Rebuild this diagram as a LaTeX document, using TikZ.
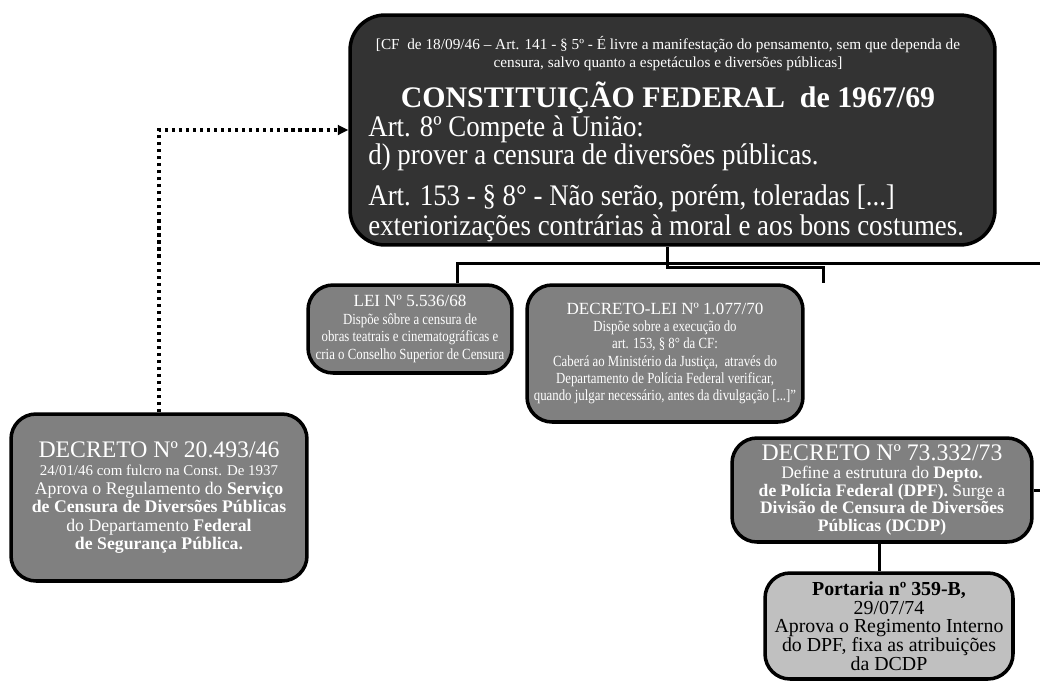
\documentclass[tikz,border=0pt]{standalone}
\usepackage{fontspec}
\setmainfont{Liberation Serif}
\newfontfamily\narrowserif[FakeStretch=0.83]{Liberation Serif}
\newfontfamily\cfserif[FakeStretch=0.9]{Liberation Serif}
\usetikzlibrary{arrows.meta}

\definecolor{cfgray}{HTML}{333333}
\definecolor{boxgray}{HTML}{808080}
\definecolor{litegray}{HTML}{C0C0C0}

\tikzset{
  lawbox/.style={draw=black, line width=2pt, rounded corners=0.5cm, fill=boxgray,
    text=white, align=center, inner sep=2pt},
  cfbox/.style={lawbox, fill=cfgray, rounded corners=0.7cm},
  portbox/.style={lawbox, fill=litegray, text=black},
  cftext/.style={text=white, inner sep=0pt, anchor=base west,
    font=\cfserif\fontsize{17}{18}\selectfont},
  link/.style={line width=1.7pt},
  refarrow/.style={line width=1.8pt, dash pattern=on 1.8pt off 2.2pt,
    -{Triangle[length=6pt,width=5.5pt]}}
}

\begin{document}
\begin{tikzpicture}[x=0.02cm, y=-0.02cm]
  \useasboundingbox (0,0) rectangle (1040,680);

  %%% boxes
  \node[cfbox, minimum width=12.9cm, minimum height=4.6cm] (cf) at (672.5,130) {};
  \node[text=white, align=center, inner sep=0pt, font=\fontsize{8.7}{10.2}\selectfont]
    (cfnote) at (668,54) {[CF\ \ de 18/09/46 – Art. 141 - § 5º - É livre a manifestação do pensamento, sem que dependa de\\
    censura, salvo quanto a espetáculos e diversões públicas]};
  \node[text=white, inner sep=0pt, anchor=base, font=\fontsize{17}{20}\selectfont\bfseries]
    (cftitle) at (668,107) {CONSTITUIÇÃO FEDERAL\ \ de 1967/69};
  \node[cftext] (cfart8) at (368,136) {Art. 8º Compete à União:};
  \node[cftext] (cfdiv) at (368,164) {d) prover a censura de diversões públicas.};
  \node[cftext] (cfart153) at (368,205) {Art. 153 - § 8° - Não serão, porém, toleradas [...]};
  \node[cftext] (cfmoral) at (368,235) {exteriorizações contrárias à moral e aos bons costumes.};

  \node[lawbox, minimum width=4.08cm, minimum height=1.76cm,
    font=\narrowserif\fontsize{8.8}{9.9}\selectfont] (lei) at (410,329)
    {{\rmfamily\fontsize{9.7}{11}\selectfont LEI Nº 5.536/68}\\
     Dispõe sôbre a censura de\\
     obras teatrais e cinematográficas e\\
     cria o Conselho Superior de Censura};

  \node[lawbox, minimum width=5.52cm, minimum height=2.74cm,
    font=\narrowserif\fontsize{8.8}{9.9}\selectfont] (declei) at (665,353.5)
    {{\rmfamily\fontsize{9.7}{11}\selectfont DECRETO-LEI Nº 1.077/70}\\
     Dispõe sobre a execução do\\
     art. 153, § 8° da CF:\\
     Caberá ao Ministério da Justiça,\ \ através do\\
     Departamento de Polícia Federal verificar,\\
     quando julgar necessário, antes da divulgação [...]”};

  \node[lawbox, minimum width=5.92cm, minimum height=3.34cm,
    font=\fontsize{10.1}{10.5}\selectfont] (dec46) at (159,497.5)
    {{\fontsize{13.5}{15}\selectfont DECRETO Nº 20.493/46}\\
     {\fontsize{8.5}{10}\selectfont 24/01/46 com fulcro na Const. De 1937}\\
     Aprova o Regulamento do \textbf{Serviço}\\
     \textbf{de Censura de Diversões Públicas}\\
     do Departamento \textbf{Federal}\\
     \textbf{de Segurança Pública.}};

  \node[lawbox, minimum width=6cm, minimum height=2.08cm,
    font=\fontsize{10}{10}\selectfont] (dec73) at (882,490)
    {{\fontsize{13.5}{15}\selectfont DECRETO Nº 73.332/73}\\
     Define a estrutura do \textbf{Depto.}\\
     \textbf{de Polícia Federal (DPF).} Surge a\\
     \textbf{Divisão de Censura de Diversões}\\
     \textbf{Públicas (DCDP)}};

  \node[portbox, minimum width=4.96cm, minimum height=2.12cm,
    font=\fontsize{11.3}{10.6}\selectfont] (portaria) at (889,626)
    {\textbf{Portaria nº 359-B,}\\
     29/07/74\\
     Aprova o Regimento Interno\\
     do DPF, fixa as atribuições\\
     da DCDP};

  %%% connectors
  \coordinate (jup) at (667,263);
  \coordinate (jdown) at (667,267);
  \coordinate (leix) at (457,0);
  \coordinate (declx) at (823,0);
  \coordinate (portx) at (879,0);
  \coordinate (edge) at (1040,0);

  \draw[link] (lei.north -| leix) |- (jup -| edge);
  \draw[link] (cf.south -| jup) -- (jdown) -| (declei.north -| declx);
  \draw[link] (dec73.east) -- (dec73.east -| edge);
  \draw[link] (dec73.south -| portx) -- (portaria.north -| portx);

  \draw[refarrow] (dec46.north) |- (cf.west);
\end{tikzpicture}
\end{document}
